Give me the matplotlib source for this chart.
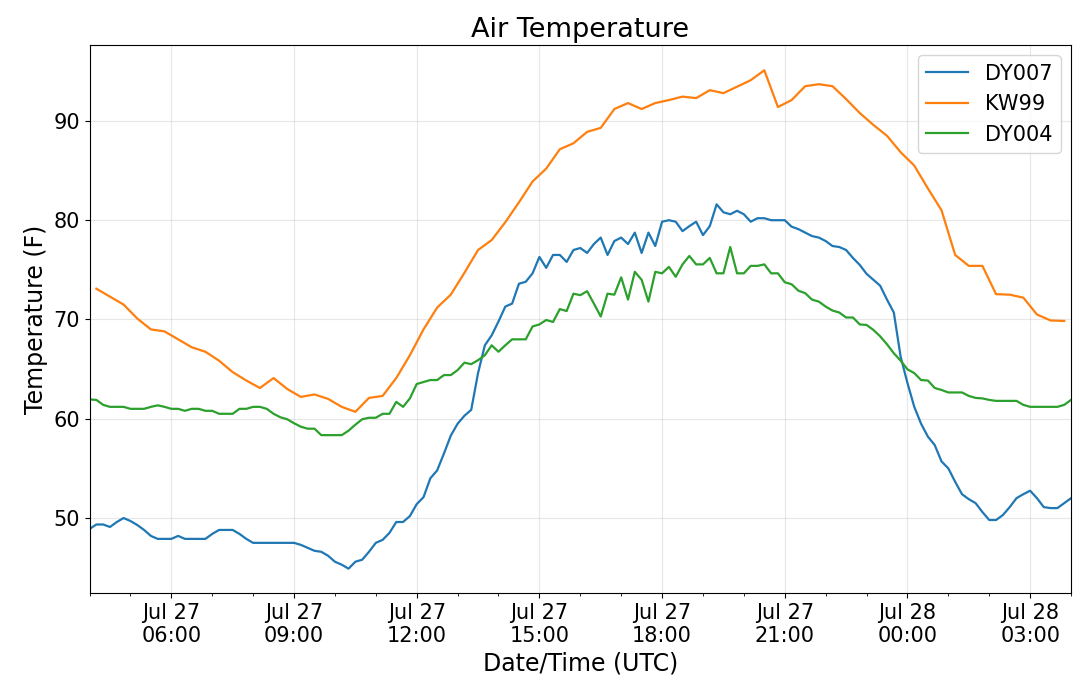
import numpy as np
import pandas as pd
import matplotlib
matplotlib.use('Agg')
import matplotlib.pyplot as plt
import matplotlib.dates as mdates

# 10-minute station data, Jul 27 04:00 -> Jul 28 04:00 UTC
t_dy = pd.date_range('2018-07-27 04:00', periods=145, freq='10min')

dy007 = [48.9, 49.35, 49.35, 49.1, 49.6, 50.0, 49.7, 49.3, 48.8, 48.2,
         47.9, 47.9, 47.9, 48.2, 47.9, 47.9, 47.9, 47.9, 48.4, 48.8,
         48.8, 48.8, 48.4, 47.9, 47.5, 47.5, 47.5, 47.5, 47.5, 47.5,
         47.5, 47.3, 47.0, 46.7, 46.6, 46.2, 45.6, 45.3, 44.9, 45.6,
         45.8, 46.6, 47.5, 47.8, 48.5, 49.6, 49.6, 50.2, 51.4, 52.1,
         54.0, 54.8, 56.5, 58.3, 59.5, 60.3, 60.9, 64.6, 67.4, 68.4,
         69.8, 71.3, 71.6, 73.6, 73.8, 74.65, 76.3, 75.2, 76.5, 76.5,
         75.8, 77.0, 77.2, 76.7, 77.6, 78.25, 76.5, 77.9, 78.25, 77.6,
         78.75, 76.7, 78.75, 77.4, 79.85, 80.0, 79.85, 78.9, 79.4, 79.85,
         78.5, 79.4, 81.6, 80.8, 80.6, 80.95, 80.6, 79.85, 80.2, 80.2,
         80.0, 80.0, 80.0, 79.35, 79.1, 78.75, 78.4, 78.25, 77.9, 77.4,
         77.3, 77.0, 76.2, 75.5, 74.6, 74.0, 73.4, 72.0, 70.7, 66.25,
         63.6, 61.2, 59.5, 58.2, 57.35, 55.7, 55.0, 53.65, 52.4, 51.9,
         51.5, 50.6, 49.8, 49.8, 50.3, 51.1, 52.0, 52.4, 52.75, 52.0,
         51.1, 51.0, 51.0, 51.5, 52.0]

dy004 = [61.95, 61.9, 61.4, 61.2, 61.2, 61.2, 61.0, 61.0, 61.0, 61.2,
         61.35, 61.2, 61.0, 61.0, 60.8, 61.0, 61.0, 60.8, 60.8, 60.5,
         60.5, 60.5, 61.0, 61.0, 61.2, 61.2, 61.0, 60.5, 60.15, 59.95,
         59.55, 59.2, 59.0, 59.0, 58.35, 58.35, 58.35, 58.35, 58.8, 59.4,
         59.95, 60.1, 60.1, 60.5, 60.5, 61.7, 61.2, 62.05, 63.5, 63.7,
         63.9, 63.9, 64.4, 64.4, 64.9, 65.65, 65.5, 65.9, 66.4, 67.4,
         66.75, 67.4, 68.0, 68.0, 68.0, 69.3, 69.5, 69.95, 69.75, 71.05,
         70.85, 72.6, 72.45, 72.85, 71.6, 70.3, 72.6, 72.5, 74.25, 72.0,
         74.8, 74.0, 71.8, 74.8, 74.65, 75.3, 74.3, 75.55, 76.4, 75.55,
         75.55, 76.2, 74.65, 74.65, 77.3, 74.65, 74.65, 75.4, 75.4, 75.55,
         74.65, 74.65, 73.75, 73.55, 72.9, 72.65, 72.0, 71.8, 71.3, 70.9,
         70.7, 70.2, 70.2, 69.5, 69.45, 68.95, 68.3, 67.5, 66.6, 65.85,
         64.98, 64.6, 63.9, 63.85, 63.1, 62.9, 62.65, 62.65, 62.65, 62.3,
         62.1, 62.05, 61.9, 61.8, 61.8, 61.8, 61.8, 61.4, 61.2, 61.2,
         61.2, 61.2, 61.2, 61.4, 61.9]

# 20-minute airport data
t_kw = pd.date_range('2018-07-27 04:10', periods=72, freq='20min')
kw99 = [73.1, 72.3, 71.5, 70.1, 69.0, 68.8, 68.0, 67.2, 66.75, 65.85,
        64.7, 63.85, 63.1, 64.1, 63.0, 62.2, 62.45, 62.0, 61.2, 60.7,
        62.1, 62.3, 64.1, 66.4, 69.0, 71.2, 72.5, 74.7, 77.0, 78.0,
        79.8, 81.8, 83.9, 85.2, 87.15, 87.75, 88.9, 89.3, 91.2, 91.8,
        91.2, 91.8, 92.1, 92.45, 92.3, 93.1, 92.8, 93.45, 94.1, 95.1,
        91.4, 92.1, 93.5, 93.7, 93.5, 92.2, 90.8, 89.6, 88.5, 86.85,
        85.5, 83.2, 81.0, 76.5, 75.4, 75.4, 72.55, 72.5, 72.2, 70.5,
        69.9, 69.85]

fig = plt.figure(figsize=(10.8, 6.9), dpi=100)
ax = fig.add_axes([0.0829, 0.1406, 0.9088, 0.7942])

ax.plot(t_dy, dy007, color='tab:blue', lw=1.6, label='DY007')
ax.plot(t_kw, kw99, color='tab:orange', lw=1.6, label='KW99')
ax.plot(t_dy, dy004, color='tab:green', lw=1.6, label='DY004')

ax.set_xlim(t_dy[0], t_dy[-1])
ax.set_ylim(42.45, 97.65)
ax.set_yticks([50, 60, 70, 80, 90])

ax.xaxis.set_major_locator(mdates.HourLocator(byhour=range(0, 24, 3)))
ax.xaxis.set_minor_locator(mdates.HourLocator())
ax.xaxis.set_major_formatter(mdates.DateFormatter('%b %d\n%H:%M'))

ax.tick_params(axis='both', which='major', labelsize=15)
ax.grid(True, alpha=0.3)

ax.set_title('Air Temperature', fontsize=19.5)
ax.set_xlabel('Date/Time (UTC)', fontsize=17)
ax.set_ylabel('Temperature (F)', fontsize=17)
ax.legend(loc='upper right', fontsize=15)

plt.savefig('out.png', dpi=100)
